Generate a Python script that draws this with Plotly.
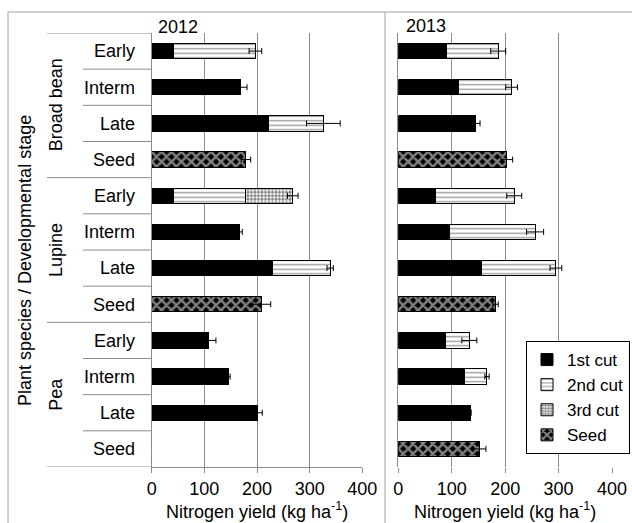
import plotly.graph_objects as go

# ---------------- data ----------------
species = ["Broad bean"] * 4 + ["Lupine"] * 4 + ["Pea"] * 4
stages = ["Early", "Interm", "Late", "Seed"] * 3
groups = ["Broad bean", "Lupine", "Pea"]

cut1_2012 = [41, 169, 222, None, 41, 167, 229, None, 108, 146, 201, None]
cut2_2012 = [156, None, 104, None, 138, None, 110, None, None, None, None, None]
cut3_2012 = [None, None, None, None, 89, None, None, None, None, None, None, None]
seed_2012 = [None, None, None, 179, None, None, None, 209, None, None, None, None]
err_2012 = [12, 12, 32, 9, 10, 5, 6, 17, 14, 3, 9, None]

cut1_2013 = [91, 112, 144, None, 69, 95, 156, None, 89, 123, 136, None]
cut2_2013 = [96, 100, None, None, 148, 161, 139, None, 44, 43, None, None]
cut3_2013 = [None] * 12
seed_2013 = [None, None, None, 203, None, None, None, 182, None, None, None, 152]
err_2013 = [14, 11, 9, 11, 14, 16, 11, 5, 14, 4, None, 12]

x_ticks = [0, 100, 200, 300, 400]
x_title = "Nitrogen yield (kg ha<sup>-1</sup>)"
y_title = "Plant species / Developmental stage"
years = ["2012", "2013"]

# ---------------- figure ----------------
W, H = 632, 523
FONT = "Liberation Sans, Arial, sans-serif"
GRID = "#8c8c8c"
cats = [f"{sp} | {st}" for sp, st in zip(species, stages)]

series_style = {
    "1st cut": dict(color="black", line=dict(color="black", width=1)),
    "2nd cut": dict(color="white", line=dict(color="black", width=1),
                    pattern=dict(shape="-", fgcolor="#333", bgcolor="white", size=4.5, solidity=0.3)),
    "3rd cut": dict(color="white", line=dict(color="black", width=1),
                    pattern=dict(shape=".", fgcolor="black", bgcolor="white", size=3.5, solidity=0.55)),
    "Seed": dict(color="black", line=dict(color="black", width=1),
                 pattern=dict(shape="x", fgcolor="white", bgcolor="black", size=7, solidity=0.6)),
}

fig = go.Figure()


def total(*parts):
    out = []
    for vals in zip(*parts):
        nums = [v for v in vals if v is not None]
        out.append(sum(nums) if nums else None)
    return out


def add_year(c1, c2, c3, sd, err, xa, ya, show):
    for name, vals in [("1st cut", c1), ("2nd cut", c2), ("3rd cut", c3), ("Seed", sd)]:
        fig.add_trace(go.Bar(
            x=vals, y=cats, orientation="h", name=name, legendgroup=name,
            showlegend=show, marker=series_style[name], xaxis=xa, yaxis=ya,
        ))
    tot = total(c1, c2, c3, sd)
    fig.add_trace(go.Scatter(
        x=tot, y=cats, mode="markers", marker=dict(size=1, opacity=0),
        error_x=dict(type="data", array=err, visible=True, color="black", thickness=1, width=3),
        showlegend=False, hoverinfo="skip", xaxis=xa, yaxis=ya,
    ))


add_year(cut1_2012, cut2_2012, cut3_2012, seed_2012, err_2012, "x", "y", True)
add_year(cut1_2013, cut2_2013, cut3_2013, seed_2013, err_2013, "x2", "y2", False)

ydom = [1 - 467 / H, 1 - 33 / H]
xcommon = dict(range=[0, 400], tickvals=x_ticks, showgrid=True, gridcolor=GRID, gridwidth=1,
               zeroline=False, ticks="outside", ticklen=5, tickcolor=GRID, automargin=False,
               tickfont=dict(size=18, color="black", family=FONT))
ycommon = dict(categoryorder="array", categoryarray=cats, range=[11.5, -0.5], automargin=False,
               showgrid=False, zeroline=False, showline=True, linecolor=GRID, linewidth=1,
               domain=ydom, ticks="")

fig.update_layout(
    width=W, height=H,
    margin=dict(l=0, r=0, t=0, b=0, autoexpand=False),
    paper_bgcolor="white", plot_bgcolor="white",
    font=dict(family=FONT, color="black", size=18),
    barmode="stack", bargap=0.58,
    xaxis=dict(domain=[151.7 / W, 362.3 / W], anchor="y", showline=True, linecolor=GRID, **xcommon),
    yaxis=dict(anchor="x", tickvals=cats, ticktext=stages, ticklabelstandoff=12,
               tickfont=dict(size=18, color="black", family=FONT), **ycommon),
    xaxis2=dict(domain=[398.3 / W, 612 / W], anchor="y2", showline=False, **xcommon),
    yaxis2=dict(anchor="x2", showticklabels=False, **ycommon),
    legend=dict(x=630 / W, xanchor="right", y=1 - 341 / H, yanchor="top",
                bordercolor="black", borderwidth=1, bgcolor="white",
                font=dict(size=17, color="black", family=FONT), tracegroupgap=7,
                traceorder="normal"),
    showlegend=True,
)

shapes = []
# category axis separators
for i in range(12):
    y = i - 0.5
    x0 = 47 / W if i % 4 == 0 else 83 / W
    shapes.append(dict(type="line", xref="paper", yref="y", x0=x0, x1=151.7 / W, y0=y, y1=y,
                       line=dict(color=GRID, width=1)))
shapes.append(dict(type="line", xref="paper", yref="y", x0=47 / W, x1=151.7 / W, y0=11.5, y1=11.5,
                   line=dict(color=GRID, width=1)))
# outer frame
FR = "#a0a0a0"
shapes.append(dict(type="line", xref="paper", yref="paper", x0=8 / W, x1=8 / W, y0=0, y1=1 - 12 / H,
                   line=dict(color=FR, width=1)))
shapes.append(dict(type="line", xref="paper", yref="paper", x0=8 / W, x1=1, y0=1 - 12 / H, y1=1 - 12 / H,
                   line=dict(color=FR, width=1)))
shapes.append(dict(type="line", xref="paper", yref="paper", x0=385 / W, x1=385 / W, y0=0, y1=1 - 12 / H,
                   line=dict(color=FR, width=1)))
fig.update_layout(shapes=shapes)

C = dict(xanchor="center", yanchor="middle", showarrow=False)
ann = []
ann.append(dict(text=years[0], x=178 / W, y=1 - 27 / H, xref="paper", yref="paper", font=dict(size=18), **C))
ann.append(dict(text=years[1], x=425.5 / W, y=1 - 26 / H, xref="paper", yref="paper", font=dict(size=18), **C))
for gi, g in enumerate(groups):
    ann.append(dict(text=g, x=56 / W, xref="paper", y=gi * 4 + 1.5, yref="y", textangle=-90,
                    font=dict(size=18), **C))
ann.append(dict(text=y_title, x=25 / W, y=1 - 261 / H, xref="paper", yref="paper", textangle=-90,
                font=dict(size=18), **C))
for cx in [257 / W, 505 / W]:
    ann.append(dict(text=x_title, x=cx, y=1 - 510 / H, xref="paper", yref="paper",
                    font=dict(size=18), **C))
fig.update_layout(annotations=ann)

fig.write_html("out.html", config={"displayModeBar": False},
               post_script="document.body.style.margin='0px';document.body.style.overflow='hidden';")
